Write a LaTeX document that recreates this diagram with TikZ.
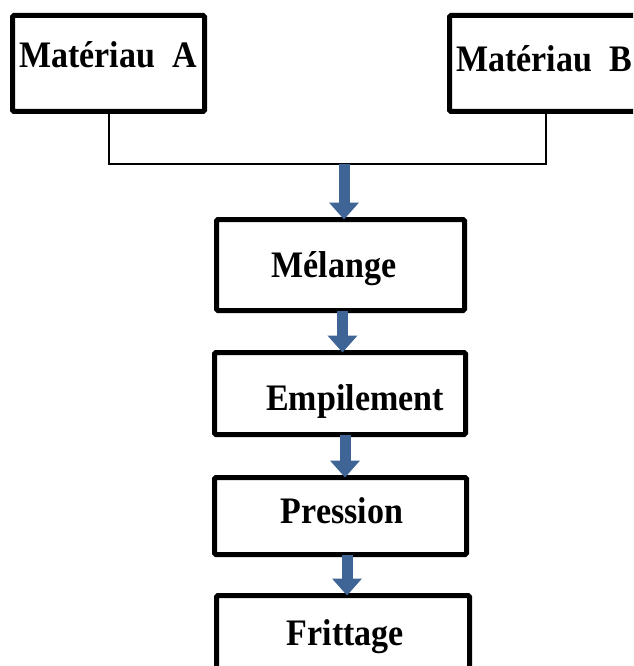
\documentclass[tikz,border=0pt]{standalone}
\usepackage{fontspec}
\setmainfont{Liberation Serif}
\usetikzlibrary{arrows.meta,calc}
\definecolor{arrowblue}{RGB}{63,101,150}
\newcommand{\tallbf}[1]{\scalebox{1}[1.1]{#1}}
\tikzset{
  box/.style={draw=black, line width=5pt, rounded corners=1.5pt, fill=white, inner sep=0pt, outer sep=0pt},
  lbl/.style={inner sep=0pt, font=\fontsize{34}{40}\selectfont\bfseries},
  link/.style={draw=black, line width=2pt},
  flow/.style={draw=arrowblue, line width=11pt, -{Triangle[width=29pt,length=17pt]}}
}
\begin{document}
\begin{tikzpicture}[x=1pt,y=-1pt]
\useasboundingbox (0,0) rectangle (633,666);
\clip (0,0) rectangle (633,666);
\fill[white] (0,0) rectangle (633,666);
% boxes
\node[box, minimum width=192pt, minimum height=96pt] (A) at (108.5,63.5) {};
\node[box, minimum width=193pt, minimum height=96pt] (B) at (546,63.5) {};
\node[box, minimum width=248pt, minimum height=91pt] (mel) at (340.5,265) {};
\node[box, minimum width=251pt, minimum height=82pt] (emp) at (340,393.5) {};
\node[box, minimum width=252pt, minimum height=77pt] (pre) at (340.5,516) {};
\node[box, minimum width=253pt, minimum height=85pt] (fri) at (343,638) {};
% labels
\node[lbl, anchor=base] (tA) at (108,68) {\tallbf{Matériau\ \ A}};
\node[lbl, anchor=base west] (tB) at (456,72) {\tallbf{Matériau\ \ B}};
\node[lbl, anchor=base] (tmel) at (334,277) {\tallbf{Mélange}};
\node[lbl, anchor=base] (temp) at (355,410) {\tallbf{Empilement}};
\node[lbl, anchor=base] (tpre) at (342,523) {\tallbf{Pression}};
\node[lbl, anchor=base] (tfri) at (345.5,645) {\tallbf{Frittage}};
% joining line
\coordinate (jn) at (344,164);
\draw[link] (A.south) |- (jn) -| (B.south);
% flow arrows
\draw[flow] (jn) -- (jn |- mel.north);
\draw[flow] ($(mel.south)+(2,0)$) -- ($(emp.north)+(2.5,0)$);
\draw[flow] ($(emp.south)+(5,0)$) -- ($(pre.north)+(4.5,0)$);
\draw[flow] ($(pre.south)+(6.5,0)$) -- ($(fri.north)+(4,0)$);
\end{tikzpicture}
\end{document}
